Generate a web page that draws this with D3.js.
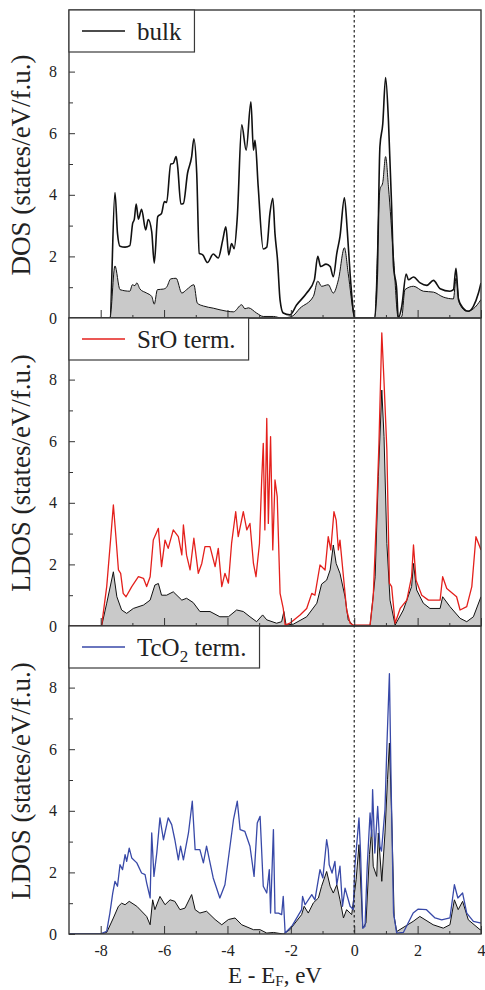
<!DOCTYPE html>
<html>
<head>
<meta charset="utf-8">
<script src="https://cdn.jsdelivr.net/npm/d3@7"></script>
<style>
  body { margin: 0; background: #fff; }
  svg { display: block; }
</style>
</head>
<body>
<div id="chart"></div>
<script>
// energy grid (E - E_F, eV) and tick values
var xTicks = [-8, -6, -4, -2, 0, 2, 4];
var xMinor = [-7, -5, -3, -1, 1, 3];
var yTicks = [0, 2, 4, 6, 8];
var yMinor = [1, 3, 5, 7, 9];

// panel 1: bulk total DOS and its partial (grey)
var bulkTotal = [[-9,0],[-7.71,0],[-7.55,4.07],[-7.47,2.75],[-7.39,2.33],[-7.23,2.3],[-7.08,2.35],[-6.99,3.08],[-6.94,3.2],[-6.88,3.7],[-6.81,3.21],[-6.71,3.53],[-6.58,2.86],[-6.5,3.2],[-6.39,2.8],[-6.31,1.78],[-6.2,3.29],[-6.08,3.4],[-5.99,3.78],[-5.92,3.75],[-5.79,5.0],[-5.71,5.02],[-5.62,5.24],[-5.57,4.9],[-5.47,3.7],[-5.39,3.72],[-5.26,4.7],[-5.13,5.24],[-5.06,5.82],[-4.97,4.7],[-4.89,2.1],[-4.78,2.05],[-4.63,1.8],[-4.45,2.08],[-4.29,1.95],[-4.15,2.53],[-4.05,2.96],[-3.96,2.05],[-3.87,2.42],[-3.79,2.25],[-3.69,3.27],[-3.55,6.27],[-3.41,5.45],[-3.26,7.02],[-3.18,5.45],[-3.13,5.77],[-3.03,4.26],[-2.87,2.24],[-2.76,2.3],[-2.66,3.4],[-2.57,3.89],[-2.5,2.73],[-2.42,1.88],[-2.34,0.58],[-2.24,0.16],[-2.03,0.1],[-1.82,0.42],[-1.5,0.81],[-1.26,1.23],[-1.15,2.0],[-1.06,1.67],[-0.89,1.75],[-0.76,1.67],[-0.66,1.34],[-0.55,2.1],[-0.45,2.64],[-0.31,3.9],[-0.22,2.85],[-0.13,1.43],[-0.01,0.1],[0.02,0],[0.64,0],[0.73,1.45],[0.81,5.56],[0.9,6.3],[0.99,7.81],[1.08,6.4],[1.18,3.62],[1.24,1.67],[1.34,0.92],[1.39,0],[1.5,0.38],[1.64,1.43],[1.71,1.24],[1.87,1.33],[2.08,1.14],[2.29,1.06],[2.5,1.22],[2.71,0.95],[3.02,0.87],[3.13,0.92],[3.21,1.61],[3.29,0.6],[3.44,0.32],[3.6,0.22],[3.76,0.38],[3.92,0.81],[4.0,1.14]];
var bulkPartial = [[-9,0],[-7.71,0],[-7.55,1.69],[-7.39,0.92],[-7.08,0.87],[-7.0,1.08],[-6.92,1.05],[-6.86,1.14],[-6.76,0.94],[-6.55,0.81],[-6.39,0.7],[-6.31,0.45],[-6.21,0.92],[-6.02,0.94],[-5.92,1.0],[-5.79,1.27],[-5.62,1.29],[-5.44,0.81],[-5.29,0.92],[-5.06,1.08],[-4.95,0.48],[-4.76,0.39],[-4.45,0.32],[-4.02,0.22],[-3.81,0.2],[-3.55,0.43],[-3.45,0.3],[-3.34,0.33],[-3.08,0.16],[-2.87,0.05],[-2.55,0.05],[-2.29,0.0],[-1.97,0.05],[-1.71,0.32],[-1.29,0.7],[-1.15,1.2],[-1.03,1.03],[-0.82,1.08],[-0.66,0.81],[-0.5,1.24],[-0.31,2.28],[-0.19,1.45],[-0.01,0.1],[0.02,0],[0.64,0],[0.81,4.16],[0.9,4.4],[0.99,5.24],[1.08,4.26],[1.24,1.99],[1.39,0],[1.5,0.05],[1.6,0.92],[1.87,1.03],[2.18,0.87],[2.5,0.84],[2.81,0.68],[3.13,0.62],[3.21,1.29],[3.32,0.48],[3.55,0.22],[3.76,0.3],[4.0,0.6]];

// panel 2: SrO-terminated surface LDOS (red) and partial (grey)
var sroTerm = [[-9,0],[-8.02,0],[-7.97,0.02],[-7.81,1.28],[-7.68,2.9],[-7.6,3.93],[-7.52,2.9],[-7.44,1.82],[-7.37,1.71],[-7.29,1.06],[-7.2,0.95],[-7.02,1.28],[-6.81,1.6],[-6.65,1.55],[-6.55,1.28],[-6.44,1.6],[-6.34,2.79],[-6.18,3.17],[-6.08,1.93],[-5.97,2.79],[-5.87,2.52],[-5.71,3.12],[-5.55,2.9],[-5.44,2.31],[-5.39,3.28],[-5.29,2.3],[-5.18,1.82],[-5.06,2.85],[-4.92,1.71],[-4.81,2.03],[-4.71,2.58],[-4.55,2.58],[-4.39,1.93],[-4.29,2.52],[-4.18,1.28],[-4.08,1.71],[-3.97,1.39],[-3.87,2.68],[-3.74,3.71],[-3.66,2.9],[-3.5,3.71],[-3.39,3.12],[-3.29,3.33],[-3.18,2.03],[-3.1,1.6],[-2.99,2.68],[-2.92,4.74],[-2.87,5.93],[-2.82,3.12],[-2.76,6.74],[-2.71,3.33],[-2.64,6.15],[-2.57,2.47],[-2.5,4.74],[-2.43,4.2],[-2.34,1.06],[-2.24,0.57],[-2.18,0.03],[-2.03,0.09],[-1.71,0.36],[-1.5,0.57],[-1.34,1.06],[-1.24,1.0],[-1.08,1.98],[-0.92,1.82],[-0.82,2.9],[-0.74,2.47],[-0.64,3.71],[-0.57,3.44],[-0.5,2.47],[-0.45,2.79],[-0.34,1.6],[-0.24,0.52],[-0.13,0.09],[-0.03,0.03],[0.5,0.03],[0.6,0.95],[0.71,3.77],[0.78,5.93],[0.87,9.52],[0.94,7.93],[1.03,5.71],[1.11,1.39],[1.18,1.28],[1.29,0.09],[1.45,0.57],[1.66,0.84],[1.81,1.6],[1.87,2.63],[1.95,1.49],[2.13,1.0],[2.34,0.84],[2.71,0.84],[2.79,1.6],[2.92,1.22],[3.23,0.95],[3.34,0.52],[3.55,0.63],[3.71,1.28],[3.84,2.9],[4.0,2.47]];
var sroPartial = [[-9,0],[-7.97,0],[-7.81,0.74],[-7.6,1.76],[-7.49,0.95],[-7.34,0.52],[-7.18,0.41],[-6.97,0.57],[-6.65,0.68],[-6.44,0.84],[-6.29,1.33],[-6.18,1.38],[-6.08,1.0],[-5.92,1.0],[-5.71,1.11],[-5.44,0.84],[-5.29,0.9],[-5.08,0.76],[-4.87,0.47],[-4.55,0.47],[-4.24,0.3],[-3.97,0.3],[-3.71,0.52],[-3.5,0.47],[-3.29,0.3],[-3.08,0.14],[-2.89,0.36],[-2.76,0.2],[-2.45,0.09],[-2.29,0.14],[-2.22,0.47],[-2.15,0.03],[-1.92,0.06],[-1.5,0.3],[-1.18,0.74],[-1.03,1.36],[-0.87,1.49],[-0.76,1.82],[-0.66,2.63],[-0.57,2.03],[-0.45,1.71],[-0.29,0.95],[-0.19,0.2],[-0.03,0.02],[0.5,0.02],[0.66,1.6],[0.76,4.85],[0.87,7.66],[0.94,6.15],[1.03,2.68],[1.13,0.84],[1.29,0.03],[1.55,0.52],[1.81,1.28],[1.87,2.03],[1.97,1.17],[2.18,0.74],[2.39,0.57],[2.71,0.57],[2.79,0.95],[3.02,0.63],[3.34,0.25],[3.55,0.14],[3.76,0.3],[4.0,0.95]];

// panel 3: TcO2-terminated surface LDOS (blue) and partial (grey)
var tcoTerm = [[-9,0],[-8.02,0],[-7.81,0.09],[-7.71,0.68],[-7.62,1.33],[-7.55,1.71],[-7.47,1.55],[-7.39,2.25],[-7.31,2.09],[-7.23,2.58],[-7.18,2.36],[-7.1,2.79],[-7.02,2.47],[-6.86,2.31],[-6.71,1.98],[-6.6,1.93],[-6.55,1.66],[-6.44,1.17],[-6.39,3.28],[-6.32,1.87],[-6.23,2.63],[-6.13,3.77],[-6.02,3.06],[-5.87,3.77],[-5.76,3.55],[-5.66,3.06],[-5.55,2.41],[-5.48,2.85],[-5.39,2.41],[-5.23,3.28],[-5.11,4.31],[-5.02,2.74],[-4.87,2.74],[-4.76,2.31],[-4.66,2.85],[-4.45,1.82],[-4.24,1.17],[-4.08,1.6],[-3.92,2.85],[-3.81,3.71],[-3.69,4.31],[-3.6,3.39],[-3.45,3.33],[-3.29,2.85],[-3.16,1.87],[-3.06,3.6],[-2.97,3.82],[-2.87,1.55],[-2.76,1.33],[-2.68,2.09],[-2.64,0.68],[-2.55,3.39],[-2.5,0.68],[-2.39,0.68],[-2.29,0.63],[-2.24,1.22],[-2.18,0.03],[-1.97,0.25],[-1.66,0.79],[-1.63,1.22],[-1.55,0.95],[-1.34,1.28],[-1.24,1.11],[-1.08,2.09],[-0.99,1.82],[-0.87,3.06],[-0.82,2.74],[-0.79,2.25],[-0.7,1.98],[-0.61,2.36],[-0.55,1.6],[-0.45,2.2],[-0.37,0.9],[-0.29,1.49],[-0.13,0.9],[-0.03,0.79],[0.02,2.2],[0.15,3.77],[0.2,2.63],[0.27,0.19],[0.34,0.25],[0.41,2.2],[0.5,3.93],[0.55,3.17],[0.58,4.69],[0.65,2.63],[0.74,4.14],[0.81,2.85],[0.86,2.69],[0.97,4.04],[1.03,6.09],[1.11,8.45],[1.17,4.5],[1.24,0.68],[1.34,0.03],[1.55,0.05],[1.86,0.68],[2.02,0.81],[2.28,0.79],[2.55,0.52],[2.76,0.46],[3.02,0.52],[3.16,1.6],[3.27,1.17],[3.42,1.33],[3.55,0.68],[3.76,0.41],[3.97,0.36],[4.0,0.36]];
var tcoPartial = [[-9,0],[-8.02,0],[-7.81,0.05],[-7.6,0.52],[-7.44,0.9],[-7.34,1.0],[-7.23,0.95],[-7.1,1.06],[-6.86,0.9],[-6.55,0.57],[-6.44,0.3],[-6.36,1.11],[-6.29,0.79],[-6.13,1.22],[-5.97,0.95],[-5.81,1.11],[-5.66,1.06],[-5.5,0.79],[-5.34,0.84],[-5.13,1.28],[-5.02,0.79],[-4.87,0.68],[-4.66,0.74],[-4.39,0.47],[-4.18,0.3],[-3.97,0.47],[-3.76,0.52],[-3.55,0.3],[-3.18,0.14],[-2.97,0.14],[-2.76,0.03],[-2.55,0.05],[-2.24,0],[-2.03,0.14],[-1.66,0.63],[-1.58,0.9],[-1.45,0.68],[-1.29,1.01],[-1.13,1.17],[-1.03,1.55],[-0.87,2.03],[-0.76,1.55],[-0.66,1.33],[-0.55,1.6],[-0.45,1.11],[-0.34,0.52],[-0.24,0.79],[-0.08,0.63],[0.06,1.76],[0.15,2.9],[0.27,0.19],[0.37,0.36],[0.48,2.58],[0.55,3.39],[0.6,2.2],[0.71,1.87],[0.76,3.28],[0.87,1.71],[0.97,3.28],[1.05,5.01],[1.11,6.2],[1.18,3.93],[1.26,0.57],[1.34,0.08],[1.86,0.41],[2.07,0.57],[2.49,0.3],[2.81,0.19],[3.02,0.3],[3.16,1.11],[3.28,0.79],[3.42,1.06],[3.6,0.46],[3.97,0.14],[4.0,0.14]];

var panels = [
  { line: bulkTotal, fill: bulkPartial, color: "#111", width: 1.6, smooth: true, label: "bulk", ylab: "DOS (states/eV/f.u.)" },
  { line: sroTerm, fill: sroPartial, color: "#e4201c", width: 1.3, smooth: false, label: "SrO term.", ylab: "LDOS (states/eV/f.u.)" },
  { line: tcoTerm, fill: tcoPartial, color: "#3849a8", width: 1.3, smooth: false, label: "TcO2", ylab: "LDOS (states/eV/f.u.)" }
];

var width = 485, height = 990,
    left = 69, right = 481,
    panelTop = [10, 318, 626], panelH = 308,
    serif = '"Liberation Serif", "Times New Roman", Times, serif';

var svg = d3.select("#chart").append("svg")
    .attr("width", width)
    .attr("height", height);

var x = d3.scaleLinear().domain([-9, 4]).range([left, right]);

panels.forEach(function(p, i) {
  var top = panelTop[i], bottom = top + panelH;
  var y = d3.scaleLinear().domain([0, 10]).range([bottom, top]);
  var curve = p.smooth ? d3.curveMonotoneX : d3.curveLinear;

  svg.append("clipPath").attr("id", "clip" + i)
    .append("rect").attr("x", left).attr("y", top)
    .attr("width", right - left).attr("height", panelH);

  var g = svg.append("g").attr("clip-path", "url(#clip" + i + ")");

  var area = d3.area().curve(curve).x(function(d) { return x(d[0]); }).y0(y(0)).y1(function(d) { return y(d[1]); });
  var line = d3.line().curve(curve).x(function(d) { return x(d[0]); }).y(function(d) { return y(d[1]); });

  g.append("path").datum(p.fill)
    .attr("d", area).attr("fill", "#c9c9c9").attr("stroke", "none");
  g.append("path").datum(p.fill)
    .attr("d", line).attr("fill", "none").attr("stroke", "#111").attr("stroke-width", 1);
  g.append("path").datum(p.line)
    .attr("d", line).attr("fill", "none").attr("stroke", p.color)
    .attr("stroke-width", p.width).attr("stroke-linejoin", "round");

  // y axis (ticks inward)
  svg.append("g").attr("transform", "translate(" + left + ",0)")
    .call(d3.axisLeft(y).tickValues(yTicks).tickSize(-6).tickPadding(12));
  svg.append("g").attr("transform", "translate(" + left + ",0)")
    .call(d3.axisLeft(y).tickValues(yMinor).tickSize(-4).tickFormat(""));

  // x axis (ticks inward), labels only on the last panel
  svg.append("g").attr("transform", "translate(0," + bottom + ")")
    .call(d3.axisBottom(x).tickValues(xTicks).tickSize(-8).tickPadding(11)
      .tickFormat(i === 2 ? function(d) { return String(d); } : ""));
  svg.append("g").attr("transform", "translate(0," + bottom + ")")
    .call(d3.axisBottom(x).tickValues(xMinor).tickSize(-3).tickFormat(""));

  // frame
  svg.append("rect")
    .attr("x", left).attr("y", top)
    .attr("width", right - left).attr("height", panelH)
    .attr("fill", "none").attr("stroke", "#3a3a3a").attr("stroke-width", 1.4);

  // y axis title
  svg.append("text")
    .attr("transform", "translate(30," + (top + panelH / 2 + 1) + ") rotate(-90)")
    .attr("text-anchor", "middle")
    .attr("font-family", serif)
    .attr("font-size", 27)
    .attr("fill", "#222")
    .text(p.ylab);

  // legend
  var leg = svg.append("g");
  var box = leg.append("rect")
    .attr("x", left).attr("y", top).attr("height", 42)
    .attr("fill", "#fff").attr("stroke", "#3a3a3a").attr("stroke-width", 1.2);
  leg.append("line")
    .attr("x1", 82).attr("x2", 125)
    .attr("y1", top + 21).attr("y2", top + 21)
    .attr("stroke", p.color).attr("stroke-width", 1.4);
  var t = leg.append("text")
    .attr("x", 137).attr("y", top + 30)
    .attr("font-family", serif)
    .attr("font-size", 25)
    .attr("fill", "#222");
  if (p.label === "TcO2") {
    t.append("tspan").text("TcO");
    t.append("tspan").attr("dy", 6).attr("font-size", 17).text("2");
    t.append("tspan").attr("dy", -6).text(" term.");
  } else {
    t.text(p.label);
  }
  box.attr("width", 137 + t.node().getComputedTextLength() + 13 - left);
});

svg.selectAll(".domain").remove();
svg.selectAll(".tick line").attr("stroke", "#333").attr("stroke-width", 1);
svg.selectAll(".tick text")
  .attr("font-family", serif)
  .style("font-family", serif)
  .style("font-size", "16px")
  .attr("fill", "#222");

// Fermi level
svg.append("line")
  .attr("x1", x(0)).attr("x2", x(0))
  .attr("y1", panelTop[0]).attr("y2", panelTop[2] + panelH)
  .attr("stroke", "#222").attr("stroke-width", 1.2)
  .attr("stroke-dasharray", "2.5,2.5");

// x axis title
var xt = svg.append("text")
  .attr("x", (left + right) / 2).attr("y", 983)
  .attr("text-anchor", "middle")
  .attr("font-family", serif)
  .attr("font-size", 23)
  .attr("fill", "#222");
xt.append("tspan").text("E - E");
xt.append("tspan").attr("dy", 3).attr("font-size", 15).text("F");
xt.append("tspan").attr("dy", -3).text(", eV");
</script>
</body>
</html>
